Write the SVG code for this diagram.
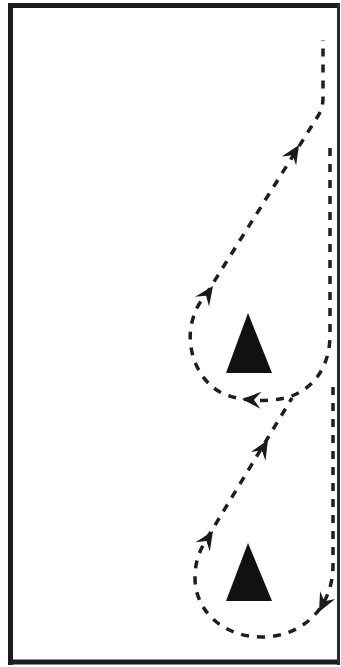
<svg xmlns="http://www.w3.org/2000/svg" width="341" height="667" viewBox="0 0 341 667">
  <style>
    .frame { stroke: #1c1c1c; stroke-width: 5; fill: none; }
    .route { fill: none; stroke: #1e1e1e; stroke-width: 3.5; stroke-dasharray: 8 8; }
    .cone { fill: #111; }
    .head { fill: #1a1a1a; }
  </style>
  <defs>
    <path id="arrowhead" class="head" d="M0,0 L-19,-8.5 L-12,0 L-19,8.5 Z"/>
  </defs>
  <rect x="0" y="0" width="341" height="667" fill="#fff"/>
  <g id="frame">
    <line class="frame" x1="10.5" y1="3" x2="10.5" y2="665"/>
    <line class="frame" x1="8" y1="5.5" x2="340" y2="5.5"/>
    <line class="frame" x1="8" y1="662" x2="340" y2="662"/>
    <line x1="338.5" y1="3" x2="338.5" y2="665" stroke="#2a2a2a" stroke-width="3"/>
  </g>
  <g id="cone-upper">
    <polygon class="cone" points="248,313 226,373 272,373"/>
  </g>
  <g id="cone-lower">
    <polygon class="cone" points="248,543 226,601 272,601"/>
  </g>
  <g id="connectors">
    <path id="route-upper" class="route" d="M330,148 L330,335 C330,370 310,392 285,398 C265,402 240,402 220,392 C195,378 186,345 192,322 C195,310 199,303 205,296 L318,116 Q323,108 323,98 L323,40"/>
    <path id="route-lower" class="route" d="M333,387 L333,565 C333,610 300,637 262,637 C222,637 195,610 195,578 C195,562 199,552 206,540 L292,398"/>
    <use href="#arrowhead" transform="translate(299,145) rotate(-58)"/>
    <use href="#arrowhead" transform="translate(213,286) rotate(-55)"/>
    <use href="#arrowhead" transform="translate(242,399) rotate(184)"/>
    <use href="#arrowhead" transform="translate(268,440) rotate(-59)"/>
    <use href="#arrowhead" transform="translate(213,531) rotate(-57)"/>
    <use href="#arrowhead" transform="translate(319,612) rotate(117)"/>
  </g>
</svg>
